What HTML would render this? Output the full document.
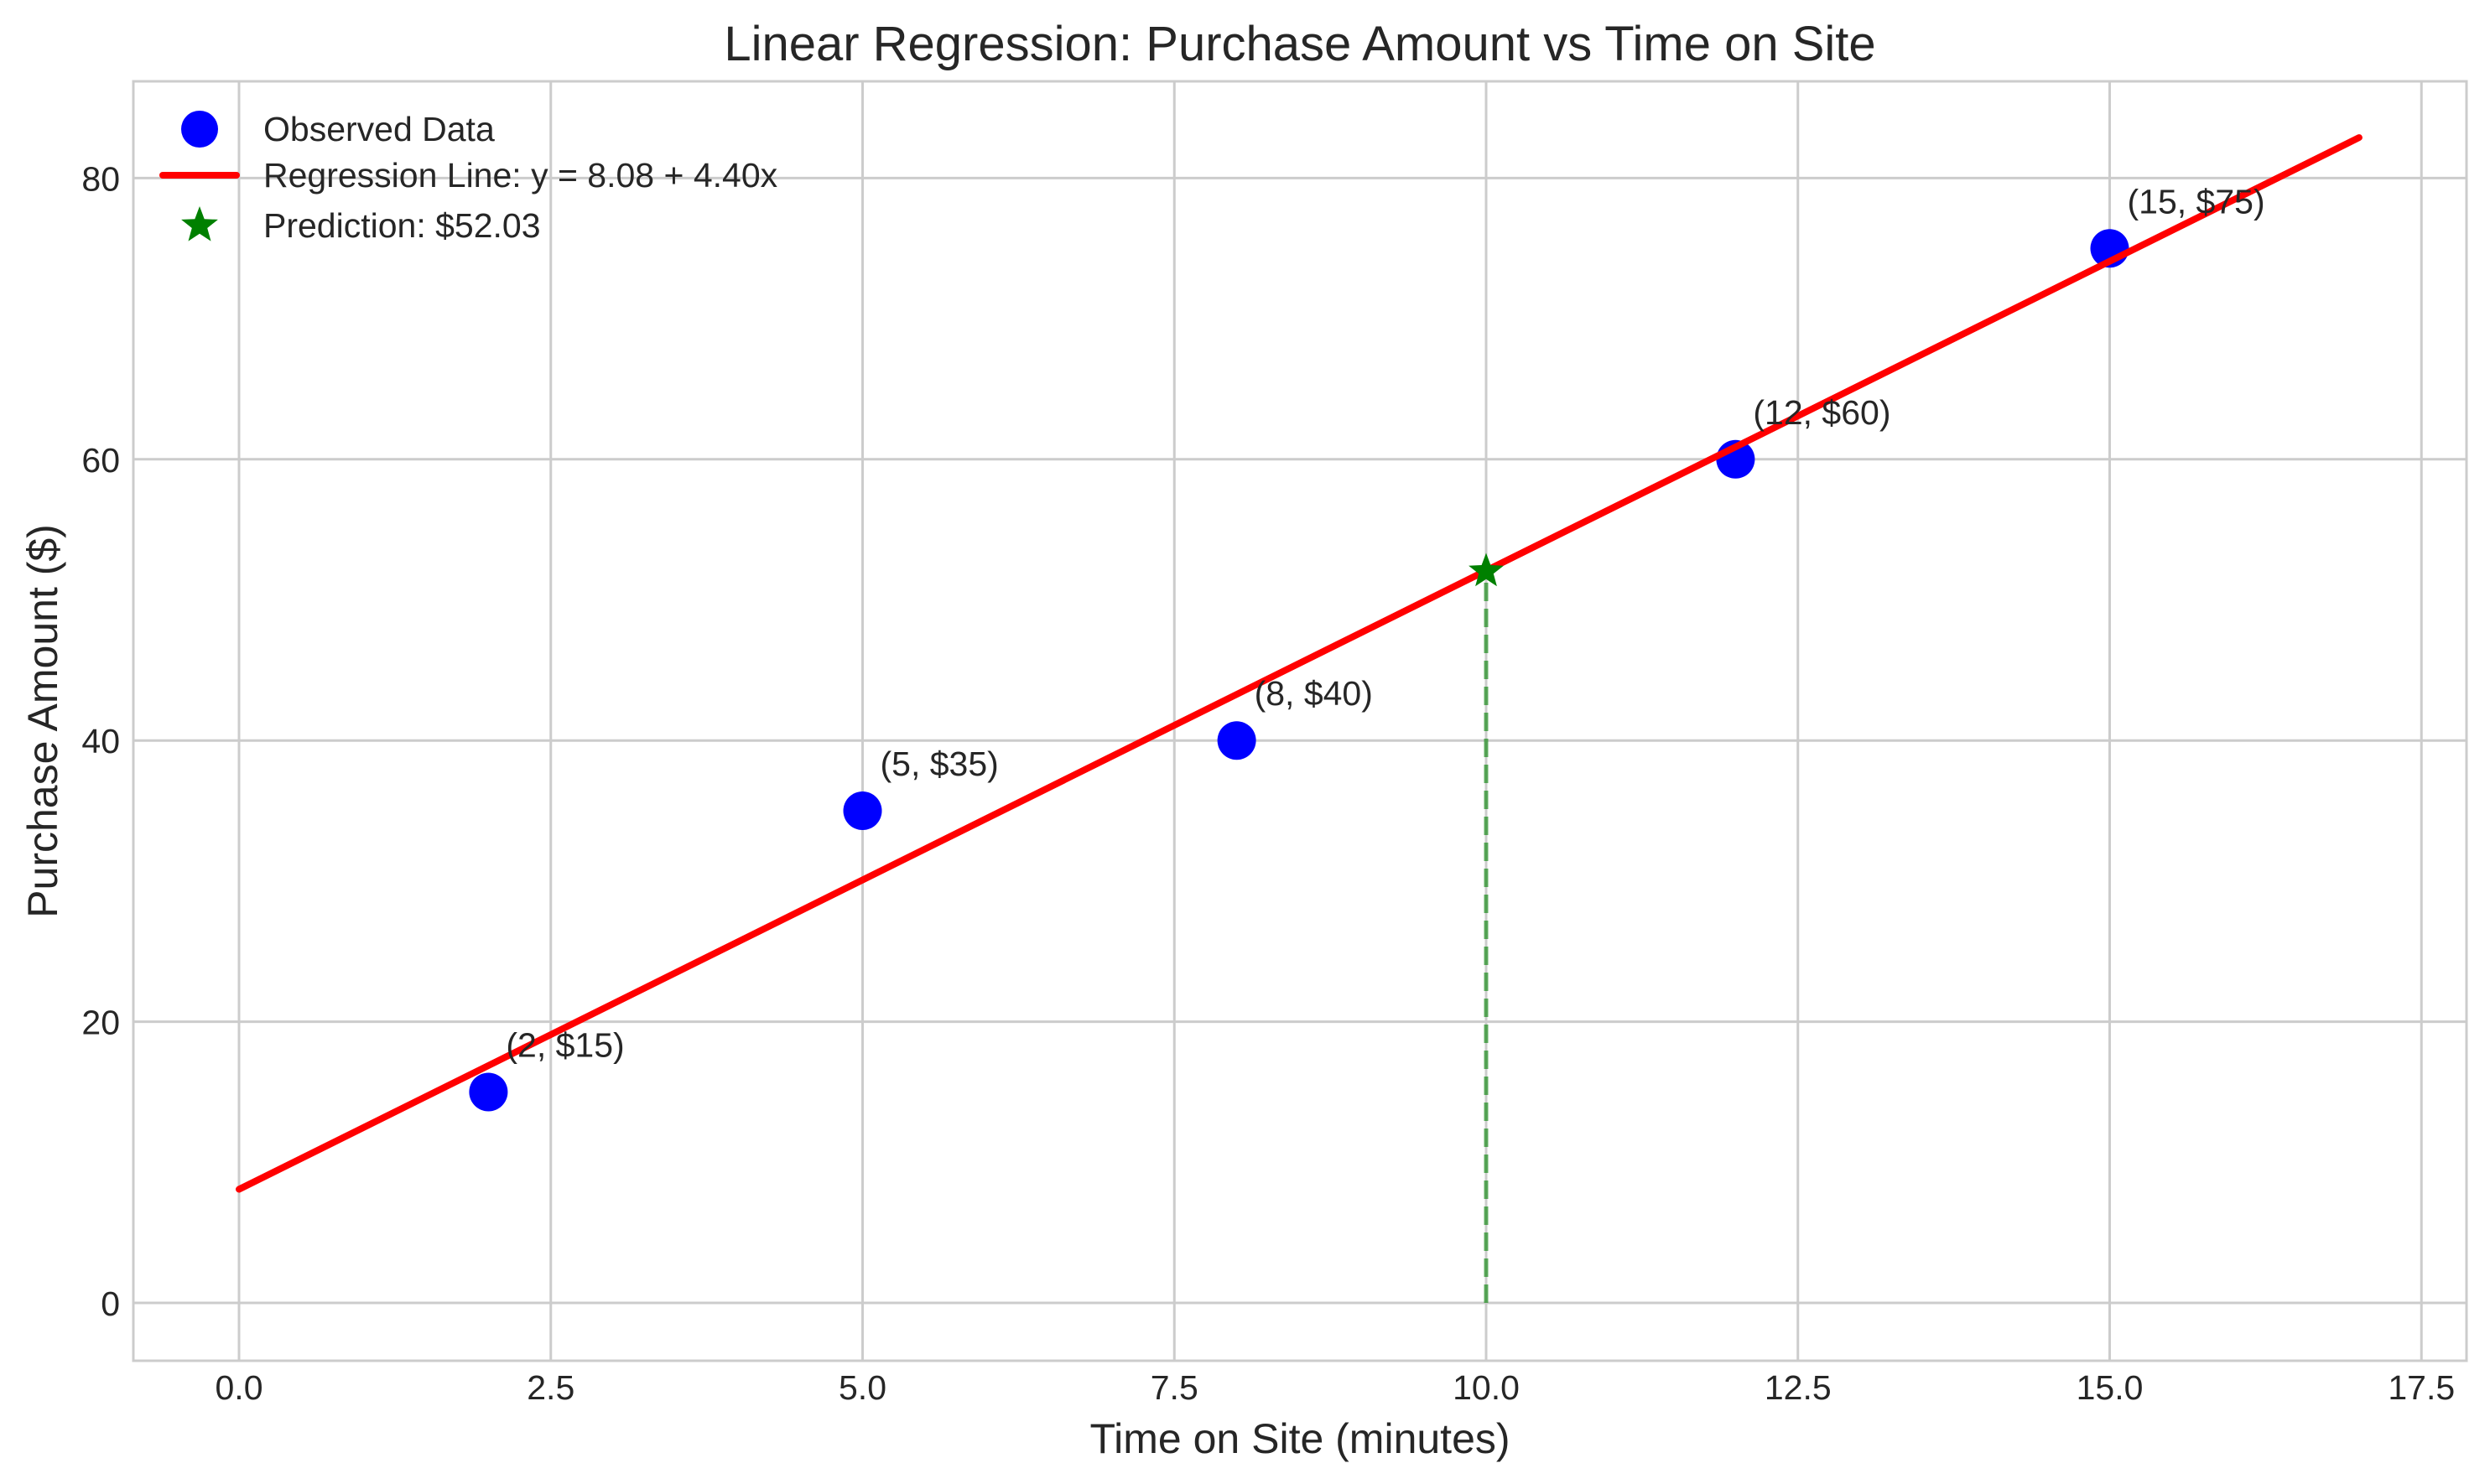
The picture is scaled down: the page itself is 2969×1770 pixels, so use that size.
<!DOCTYPE html>
<html><head><meta charset="utf-8"><style>
html,body{margin:0;padding:0;background:#fff;}
svg{display:block;font-family:"Liberation Sans",Arial,sans-serif;}
</style></head><body>
<svg id="chart" width="2969" height="1770" viewBox="0 0 2969 1770" xmlns="http://www.w3.org/2000/svg">
<rect x="0" y="0" width="2969" height="1770" fill="#fff"/>
<g id="grid"></g>
<rect x="159" y="97" width="2782" height="1526" fill="none" stroke="#cccccc" stroke-width="3"/>
<g id="marks"></g>
<text x="1550" y="72" font-size="58" fill="#262626" text-anchor="middle">Linear Regression: Purchase Amount vs Time on Site</text>
<text x="1550" y="1733" font-size="50" fill="#262626" text-anchor="middle">Time on Site (minutes)</text>
<text transform="translate(68,860) rotate(-90)" font-size="50" fill="#262626" text-anchor="middle">Purchase Amount ($)</text>
<g>
  <g>
    <circle cx="238" cy="154" r="22" fill="#0000ff"/>
    <text x="314" y="168" font-size="41" fill="#262626">Observed Data</text>
  </g>
  <g>
    <line x1="194" y1="209" x2="282" y2="209" stroke="#ff0000" stroke-width="8" stroke-linecap="round"/>
    <text x="314" y="223" font-size="41" fill="#262626">Regression Line: y = 8.08 + 4.40x</text>
  </g>
  <g>
    <polygon id="legstar" fill="#008000"/>
    <text x="314" y="283" font-size="41" fill="#262626">Prediction: $52.03</text>
  </g>
</g>
</svg>
<script>
const xData = [2, 5, 8, 12, 15];
const yData = [15, 35, 40, 60, 75];
const intercept = 8.08;
const slope = 4.40;
const lineRange = [0, 17];
const predX = [10];
const predY = [52.03];
const xTicks = ["0.0","2.5","5.0","7.5","10.0","12.5","15.0","17.5"];
const yTicks = ["0","20","40","60","80"];

const NS = "http://www.w3.org/2000/svg";
const X0 = 285, XS = 148.7, Y0 = 1554, YS = 16.77;
function sx(v){ return X0 + v*XS; }
function sy(v){ return Y0 - v*YS; }
function mk(tag, attrs, parent){
  const e = document.createElementNS(NS, tag);
  for (const k in attrs) e.setAttribute(k, attrs[k]);
  parent.appendChild(e);
  return e;
}
function starPts(cx, cy, R){
  const r = R*0.42, p = [];
  for (let i=0;i<10;i++){
    const a = -Math.PI/2 + i*Math.PI/5, rr = i%2===0 ? R : r;
    p.push((cx+rr*Math.cos(a)).toFixed(1)+","+(cy+rr*Math.sin(a)).toFixed(1));
  }
  return p.join(" ");
}
const grid = document.getElementById("grid");
const marks = document.getElementById("marks");
const svg = document.getElementById("chart");

xTicks.forEach(t => {
  const v = parseFloat(t), x = sx(v);
  const l = mk("line", {x1:x, y1:97, x2:x, y2:1623, stroke:"#cccccc", "stroke-width":3}, grid);
  
  
  const tx = mk("text", {x:x, y:1669, "font-size":41, fill:"#262626", "text-anchor":"middle"}, svg);
  tx.textContent = t;
  
  
});
yTicks.forEach(t => {
  const v = parseFloat(t), y = sy(v);
  const l = mk("line", {x1:159, y1:y, x2:2941, y2:y, stroke:"#cccccc", "stroke-width":3}, grid);
  
  
  const tx = mk("text", {x:143, y:y+15, "font-size":41, fill:"#262626", "text-anchor":"end"}, svg);
  tx.textContent = t;
  
  
});

xData.forEach((xv, i) => {
  const c = mk("circle", {cx:sx(xv), cy:sy(yData[i]), r:23, fill:"#0000ff"}, marks);
  
  
});
const rl = mk("line", {x1:sx(lineRange[0]), y1:sy(intercept+slope*lineRange[0]), x2:sx(lineRange[1]), y2:sy(intercept+slope*lineRange[1]), stroke:"#ff0000", "stroke-width":8, "stroke-linecap":"round"}, marks);


const dl = mk("line", {x1:sx(predX[0]), y1:sy(0), x2:sx(predX[0]), y2:sy(predY[0]), stroke:"#008000", "stroke-opacity":0.6, "stroke-width":5, "stroke-dasharray":"22 9"}, marks);


const st = mk("polygon", {points:starPts(sx(predX[0]), sy(predY[0]), 22), fill:"#008000"}, marks);


xData.forEach((xv, i) => {
  const t = mk("text", {x:sx(xv)+21, y:sy(yData[i])-42, "font-size":41, fill:"#262626"}, svg);
  t.textContent = "(" + xv + ", $" + yData[i] + ")";
  
  
});
document.getElementById("legstar").setAttribute("points", starPts(238, 269, 23));
</script>
</body></html>
